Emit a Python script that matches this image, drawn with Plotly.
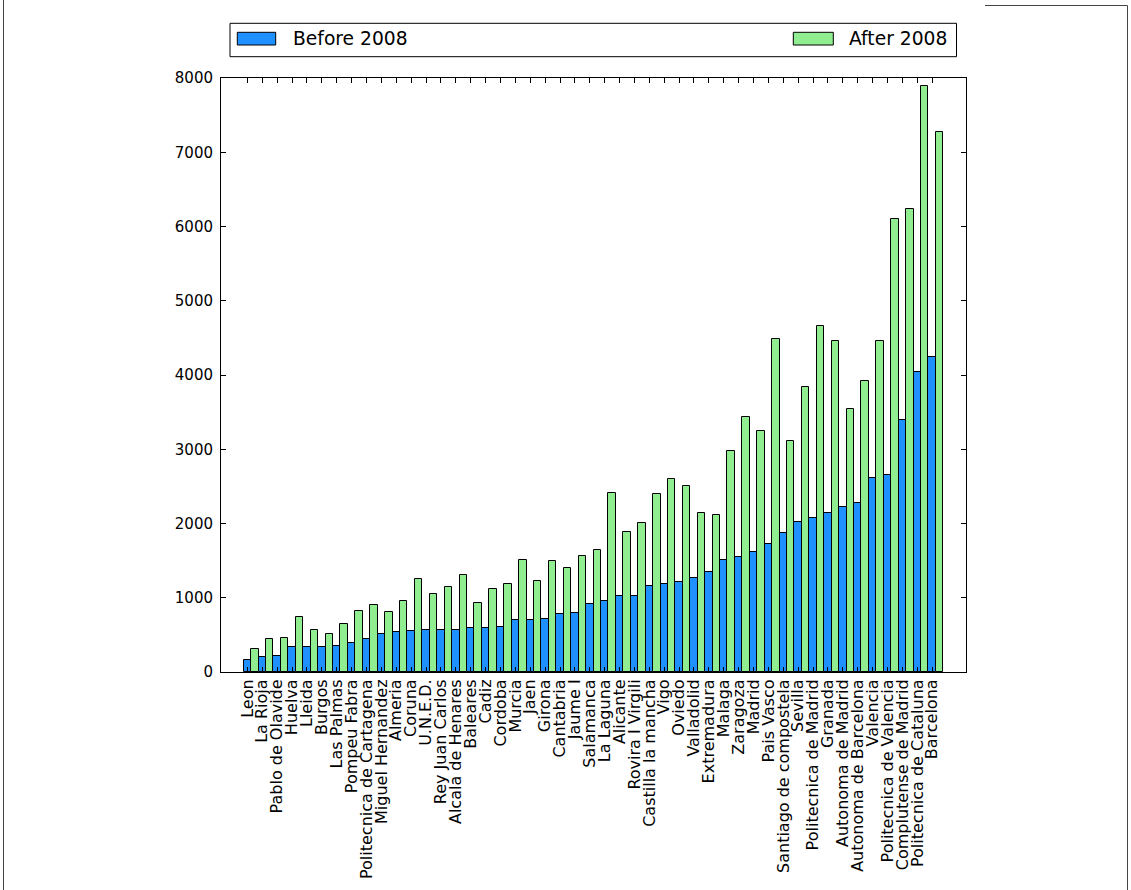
import plotly.graph_objects as go

universities = [
    "Leon", "La Rioja", "Pablo de Olavide", "Huelva", "Lleida", "Burgos", "Las Palmas",
    "Pompeu Fabra", "Politecnica de Cartagena", "Miguel Hernandez", "Almeria", "Coruna",
    "U.N.E.D.", "Rey Juan Carlos", "Alcala de Henares", "Baleares", "Cadiz", "Cordoba",
    "Murcia", "Jaen", "Girona", "Cantabria", "Jaume I", "Salamanca", "La Laguna",
    "Alicante", "Rovira I Virgili", "Castilla la mancha", "Vigo", "Oviedo", "Valladolid",
    "Extremadura", "Malaga", "Zaragoza", "Madrid", "Pais Vasco", "Santiago de compostela",
    "Sevilla", "Politecnica de Madrid", "Granada", "Autonoma de Madrid",
    "Autonoma de Barcelona", "Valencia", "Politecnica de Valencia", "Complutense de Madrid",
    "Politecnica de Cataluna", "Barcelona",
]
before_2008 = [
    166, 197, 211, 341, 341, 341, 354, 390, 440, 516, 534, 552, 570, 570, 570, 587, 587,
    605, 704, 704, 717, 780, 798, 910, 960, 1022, 1022, 1152, 1184, 1215, 1269, 1350,
    1512, 1548, 1611, 1728, 1872, 2016, 2070, 2147, 2228, 2277, 2615, 2651, 3398, 4046,
    4244,
]
after_2008 = [
    309, 440, 453, 744, 570, 516, 650, 825, 906, 812, 955, 1247, 1054, 1148, 1300, 928,
    1121, 1188, 1507, 1220, 1489, 1395, 1556, 1637, 2408, 1879, 2009, 2395, 2605, 2505,
    2147, 2115, 2975, 3429, 3249, 4482, 3105, 3839, 4662, 4455, 3542, 3915, 4455, 6103,
    6233, 7886, 7272,
]
y_ticks = [0, 1000, 2000, 3000, 4000, 5000, 6000, 7000, 8000]
series_names = ["Before 2008", "After 2008"]
series_colors = ["#1E90FF", "#90EE90"]

W, H = 1131, 890
L, R, T, B = 221, 966, 78, 672  # plot area in pixels


def px(x):
    return (x - L) / (R - L)


def py(y):
    return (B - y) / (B - T)


FONT = "DejaVu Sans"

fig = go.Figure()
fig.add_trace(go.Bar(
    x=universities, y=before_2008, name=series_names[0],
    width=0.5, offset=-0.25,
    marker=dict(color=series_colors[0], line=dict(color="black", width=1)),
    showlegend=False,
))
fig.add_trace(go.Bar(
    x=universities, y=after_2008, name=series_names[1],
    width=0.5, offset=0.25,
    marker=dict(color=series_colors[1], line=dict(color="black", width=1)),
    showlegend=False,
))

shapes = []
annotations = []
# legend box
shapes.append(dict(type="rect", xref="paper", yref="paper",
                   x0=px(230), x1=px(956.5), y0=py(56.7), y1=py(23.3),
                   line=dict(color="black", width=1), fillcolor="white"))
patches = [(237.3, 275.7, 291.5), (793.3, 833.3, 848.0)]
for (x0, x1, tx), name, col in zip(patches, series_names, series_colors):
    shapes.append(dict(type="rect", xref="paper", yref="paper",
                       x0=px(x0), x1=px(x1), y0=py(45), y1=py(32.3),
                       line=dict(color="black", width=1), fillcolor=col))
    annotations.append(dict(text=name, xref="paper", yref="paper",
                            x=px(tx), y=py(39), xanchor="left", yanchor="middle",
                            showarrow=False, borderpad=0,
                            font=dict(family=FONT, size=18.7, color="black")))
# outer frame lines of the image
edge = dict(color="#444444", width=1)
shapes.append(dict(type="line", xref="paper", yref="paper",
                   x0=px(3.5), x1=px(3.5), y0=py(0), y1=py(890), line=edge))
shapes.append(dict(type="line", xref="paper", yref="paper",
                   x0=px(1127.5), x1=px(1127.5), y0=py(5.5), y1=py(890), line=edge))
shapes.append(dict(type="line", xref="paper", yref="paper",
                   x0=px(985), x1=px(1127.5), y0=py(5.5), y1=py(5.5), line=edge))

fig.update_layout(
    width=W, height=H,
    margin=dict(l=L, r=W - R, t=T, b=H - B, pad=0),
    paper_bgcolor="white", plot_bgcolor="white",
    barmode="overlay", bargap=0,
    font=dict(family=FONT, size=15, color="black"),
    shapes=shapes, annotations=annotations,
    showlegend=False,
)
fig.update_xaxes(
    type="category", range=[-1.77, 48.27],
    tickmode="array", tickvals=universities, ticktext=universities,
    tickangle=-90, tickfont=dict(size=16),
    ticks="inside", ticklen=5, tickcolor="black", tickwidth=1,
    showline=True, linecolor="black", linewidth=1, mirror="allticks",
    showgrid=False, zeroline=False,
)
fig.update_yaxes(
    range=[0, 8000], tickvals=y_ticks, ticktext=[str(v) for v in y_ticks],
    tickfont=dict(size=15),
    ticks="inside", ticklen=5, tickcolor="black", tickwidth=1,
    showline=True, linecolor="black", linewidth=1, mirror="allticks",
    showgrid=False, zeroline=False, ticklabelstandoff=4,
)

fig.write_html("out.html")
